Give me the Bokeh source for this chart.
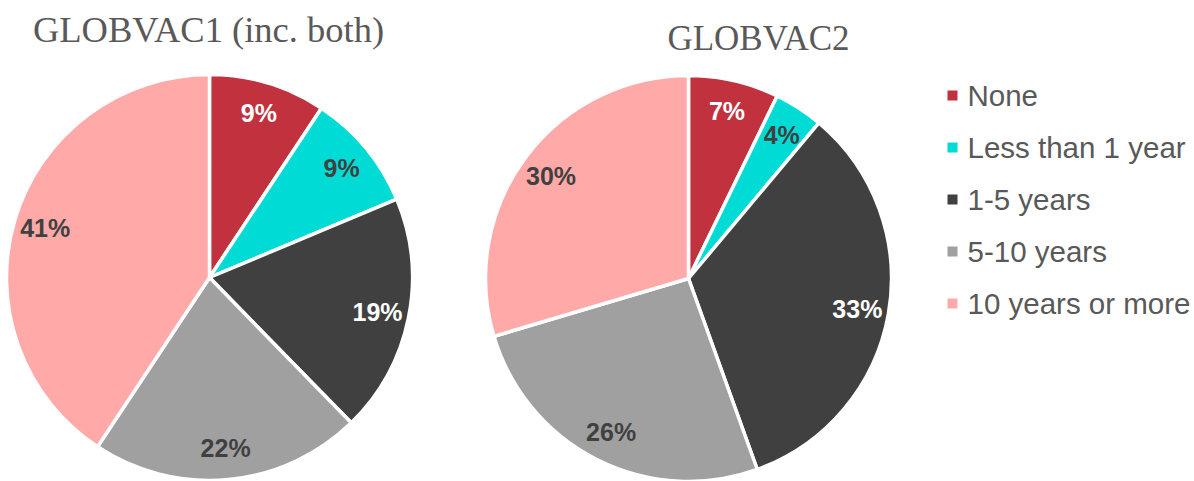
import math
from bokeh.plotting import figure
from bokeh.models import Range1d, ColumnDataSource
from bokeh.core.properties import value
from bokeh.embed import file_html
from bokeh.resources import INLINE

categories = ["None", "Less than 1 year", "1-5 years", "5-10 years", "10 years or more"]
globvac1 = [9.3, 9.4, 19.0, 21.6, 40.7]
globvac2 = [7.2, 3.9, 33.4, 25.9, 29.6]
labels1 = ["9%", "9%", "19%", "22%", "41%"]
labels2 = ["7%", "4%", "33%", "26%", "30%"]
titles = ["GLOBVAC1 (inc. both)", "GLOBVAC2"]

colors = ["#C1323E", "#00DCD5", "#404040", "#A0A0A0", "#FFA9A9"]
label_colors = ["white", "#404040", "white", "#404040", "#404040"]

W, H = 1194, 481
p = figure(width=W, height=H, output_backend="svg", toolbar_location=None,
           x_range=Range1d(0, W), y_range=Range1d(0, H),
           min_border=0, outline_line_color=None)
p.axis.visible = False
p.grid.visible = False
p.background_fill_color = "white"
p.border_fill_color = "white"


def py(page_y):
    return H - page_y


R = 203
centers = [(209, py(277)), (688, py(278))]
title_pos = [(208, py(29)), (758, py(38))]
title_sizes = ["36.5px", "35px"]

for (cx, cy), vals, labs, title, (tx, ty), ts in zip(centers, [globvac1, globvac2],
                                                      [labels1, labels2], titles, title_pos,
                                                      title_sizes):
    tot = sum(vals)
    starts, ends, lx, ly = [], [], [], []
    cum = 0.0
    for v in vals:
        a0 = math.pi / 2 - 2 * math.pi * cum / tot
        a1 = math.pi / 2 - 2 * math.pi * (cum + v) / tot
        starts.append(a0)
        ends.append(a1)
        mid = (a0 + a1) / 2
        lx.append(cx + 0.845 * R * math.cos(mid))
        ly.append(cy + 0.845 * R * math.sin(mid))
        cum += v
    src = ColumnDataSource(dict(x=[cx] * len(vals), y=[cy] * len(vals), start=starts, end=ends,
                                color=colors, lx=lx, ly=ly, lab=labs, lc=label_colors))
    p.wedge(x="x", y="y", radius=R, start_angle="start", end_angle="end", direction="clock",
            fill_color="color", line_color="white", line_width=3.5, source=src)
    p.text(x="lx", y="ly", text="lab", text_color="lc", text_font=value("Liberation Sans"),
           text_font_style="bold", text_font_size="25px", text_align="center",
           text_baseline="middle", source=src)
    p.text(x=[tx], y=[ty], text=[title], text_color="#595959",
           text_font=value("Liberation Serif"), text_font_size=ts,
           text_align="center", text_baseline="alphabetic")

# legend
leg_x = 952
leg_y = [py(95 + 52 * i) for i in range(len(categories))]
p.scatter(x=[leg_x] * len(categories), y=leg_y, marker="square", size=10,
          fill_color=colors, line_color=None)
p.text(x=[leg_x + 15] * len(categories), y=leg_y, text=categories, text_color="#595959",
       text_font=value("Liberation Sans"), text_font_size="29.5px",
       text_align="left", text_baseline="middle")

open("out.html", "w").write(file_html(p, INLINE))
